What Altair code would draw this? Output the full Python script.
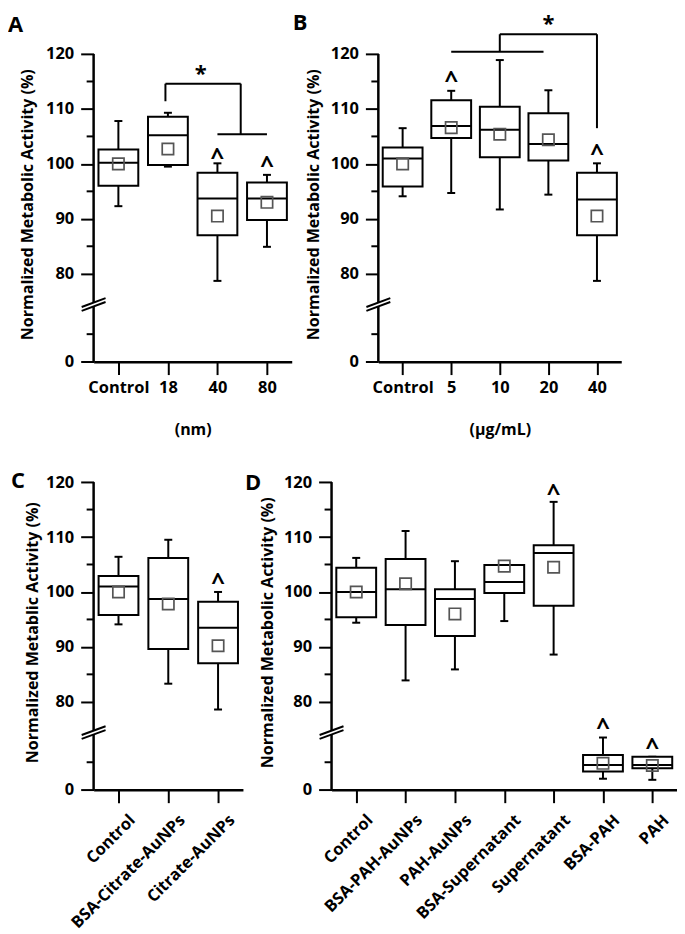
import json
import altair as alt
import pandas as pd

FONT = "Open Sans"
OFFSET = 64          # values above the axis break are drawn at (value - 64)
UMAX = 64            # top of the drawn coordinate range
PX_PER_U = 309 / 56  # plot pixels per unit

# ---------------- Panel A ----------------
A_names = ["Control", "18", "40", "80"]
A_low = [92.3, 99.5, 78.7, 84.9]
A_q1 = [96.0, 99.8, 87.0, 89.8]
A_med = [100.2, 105.2, 93.7, 93.7]
A_q3 = [102.6, 108.6, 98.4, 96.6]
A_high = [107.8, 109.3, 100.1, 98.0]
A_mean = [100.0, 102.7, 90.5, 93.0]
A_caret_idx = [2, 3]
A_caret_val = [101.5, 100.0]
# bracket segments: x1, x2, y1, y2
A_br_x1 = [0.95, 0.95, 2.47, 2.0]
A_br_x2 = [0.95, 2.47, 2.47, 3.0]
A_br_y1 = [111.4, 114.6, 114.6, 105.4]
A_br_y2 = [114.6, 114.6, 105.4, 105.4]
A_star = (1.66, 117.2)

# ---------------- Panel B ----------------
B_names = ["Control", "5", "10", "20", "40"]
B_low = [94.1, 94.7, 91.7, 94.4, 78.7]
B_q1 = [95.9, 104.7, 101.2, 100.6, 87.0]
B_med = [101.0, 106.9, 106.2, 103.6, 93.5]
B_q3 = [103.0, 111.6, 110.4, 109.2, 98.4]
B_high = [106.5, 113.3, 118.9, 113.4, 100.1]
B_mean = [100.0, 106.6, 105.4, 104.4, 90.5]
B_caret_idx = [1, 4]
B_caret_val = [115.5, 102.1]
B_br_x1 = [1.0, 2.0, 2.0, 4.0]
B_br_x2 = [2.9, 2.0, 4.0, 4.0]
B_br_y1 = [120.4, 120.4, 123.6, 123.6]
B_br_y2 = [120.4, 123.6, 123.6, 106.5]
B_star = (3.0, 126.3)

# ---------------- Panel C ----------------
C_names = ["Control", "BSA-Citrate-AuNPs", "Citrate-AuNPs"]
C_low = [94.1, 83.3, 78.6]
C_q1 = [95.8, 89.6, 87.0]
C_med = [101.0, 98.7, 93.5]
C_q3 = [102.9, 106.2, 98.2]
C_high = [106.4, 109.5, 100.0]
C_mean = [100.0, 97.8, 90.2]
C_caret_idx = [2]
C_caret_val = [102.0]

# ---------------- Panel D ----------------
D_names = ["Control", "BSA-PAH-AuNPs", "PAH-AuNPs", "BSA-Supernatant",
           "Supernatant", "BSA-PAH", "PAH"]
D_low = [94.4, 83.9, 85.9, 94.7, 88.6, 2.0, 1.8]
D_q1 = [95.4, 94.0, 92.0, 99.8, 97.5, 3.3, 3.9]
D_med = [100.0, 100.5, 98.7, 101.8, 107.1, 4.5, 4.5]
D_q3 = [104.4, 106.0, 100.5, 104.9, 108.5, 6.3, 6.0]
D_high = [106.2, 111.1, 105.6, 104.9, 116.4, 9.5, 6.0]
D_mean = [100.0, 101.5, 96.0, 104.7, 104.5, 4.8, 4.4]
D_caret_idx = [4, 5, 6]
D_caret_val = [118.2, 11.6, 8.0]

# axis decoration (drawn coordinates)
MAJOR_U = [0, 16, 26, 36, 46, 56]        # 0, 80, 90, 100, 110, 120
MINOR_U = [5, 21, 31, 41, 51]            # 5, 85, 95, 105, 115
AXIS_SEG_Y1 = [0, 10.75]
AXIS_SEG_Y2 = [10.05, 56]
BREAK_Y1 = [9.25, 9.95]
BREAK_Y2 = [10.85, 11.55]

LABEL_SIZE = 16.5
TITLE_SIZE = 16.1


def to_u(v):
    return v - OFFSET if v > 40 else v


def panel(letter, names, low, q1, med, q3, high, mean, caret_idx, caret_val,
          width, letter_dx, letter_y, ytitle, xtitle=None, angle=0, br=None,
          star=None, title_pad=10, xtitle_pad=26):
    n = len(names)
    step = width / n
    half = 20 / step
    cap = 4 / step
    height = UMAX * PX_PER_U

    df = pd.DataFrame({
        "x": list(range(n)),
        "xl": [i - half for i in range(n)],
        "xr": [i + half for i in range(n)],
        "cl": [i - cap for i in range(n)],
        "cr": [i + cap for i in range(n)],
        "low": [to_u(v) for v in low],
        "q1": [to_u(v) for v in q1],
        "med": [to_u(v) for v in med],
        "q3": [to_u(v) for v in q3],
        "high": [to_u(v) for v in high],
        "mean": [to_u(v) for v in mean],
    })

    xs = alt.Scale(domain=[-0.5, n - 0.5], nice=False, zero=False)
    ys = alt.Scale(domain=[0, UMAX], nice=False, zero=False)
    xkw = dict(values=list(range(n)),
               labelExpr=json.dumps(names) + "[datum.value]",
               grid=False, tickSize=13, tickWidth=2, tickColor="black",
               domainColor="black", domainWidth=2.5,
               labelFont=FONT, labelFontSize=LABEL_SIZE, labelFontWeight="bold",
               labelColor="black", labelAngle=angle,
               labelPadding=9 if angle else 5,
               labelOffset=8 if angle else 0,
               labelOverlap=False, labelFlush=False,
               titleFont=FONT, titleFontSize=16, titleFontWeight="bold",
               titleColor="black", titlePadding=xtitle_pad)
    xkw["title"] = xtitle if xtitle else None
    xaxis = alt.Axis(**xkw)
    yaxis = alt.Axis(values=MAJOR_U,
                     labelExpr="datum.value == 0 ? '0' : format(datum.value + 64, 'd')",
                     domain=False, grid=False, tickSize=13, tickWidth=2,
                     tickColor="black", labelFont=FONT, labelFontSize=LABEL_SIZE,
                     labelFontWeight="bold", labelColor="black", labelPadding=7,
                     labelOverlap=False,
                     title=ytitle, titleFont=FONT, titleFontSize=TITLE_SIZE,
                     titleFontWeight="bold", titleColor="black",
                     titlePadding=title_pad, titleY=195)

    def X(f):
        return alt.X(f"{f}:Q", scale=xs, axis=xaxis)

    def Y(f):
        return alt.Y(f"{f}:Q", scale=ys, axis=yaxis)

    base = alt.Chart(df)
    lw = 2
    layers = []

    axis_df = pd.DataFrame({"y1": AXIS_SEG_Y1, "y2": AXIS_SEG_Y2})
    layers.append(alt.Chart(axis_df).mark_rule(color="black", strokeWidth=2.5)
                  .encode(x=alt.value(0), y=Y("y1"), y2="y2"))
    minor_df = pd.DataFrame({"u": MINOR_U})
    layers.append(alt.Chart(minor_df).mark_rule(color="black", strokeWidth=2)
                  .encode(x=alt.value(-7), x2=alt.value(0), y=Y("u")))
    brk_df = pd.DataFrame({"y1": BREAK_Y1, "y2": BREAK_Y2})
    layers.append(alt.Chart(brk_df).mark_rule(color="black", strokeWidth=2)
                  .encode(x=alt.value(-12), x2=alt.value(12), y=Y("y1"), y2="y2"))

    layers.append(base.mark_rule(color="black", strokeWidth=lw)
                  .encode(x=X("x"), y=Y("low"), y2="q1"))
    layers.append(base.mark_rule(color="black", strokeWidth=lw)
                  .encode(x=X("x"), y=Y("q3"), y2="high"))
    layers.append(base.mark_rule(color="black", strokeWidth=lw)
                  .encode(x=X("cl"), x2="cr", y=Y("low")))
    layers.append(base.mark_rule(color="black", strokeWidth=lw)
                  .encode(x=X("cl"), x2="cr", y=Y("high")))
    layers.append(base.mark_rect(fill="white", stroke="black", strokeWidth=lw)
                  .encode(x=X("xl"), x2="xr", y=Y("q1"), y2="q3"))
    layers.append(base.mark_rule(color="black", strokeWidth=lw)
                  .encode(x=X("xl"), x2="xr", y=Y("med")))
    layers.append(base.mark_point(shape="square", size=130, filled=False,
                                  color="#555555", strokeWidth=1.7, opacity=1)
                  .encode(x=X("x"), y=Y("mean")))

    caret_df = pd.DataFrame({"x": caret_idx, "u": [to_u(v) for v in caret_val]})
    layers.append(alt.Chart(caret_df)
                  .mark_text(text="^", font=FONT, fontSize=24, fontWeight="bold",
                             color="black", baseline="middle", dy=2)
                  .encode(x=X("x"), y=Y("u")))

    if br is not None:
        bx1, bx2, by1, by2 = br
        br_df = pd.DataFrame({"x1": bx1, "x2": bx2,
                              "y1": [to_u(v) for v in by1],
                              "y2": [to_u(v) for v in by2]})
        layers.append(alt.Chart(br_df).mark_rule(color="black", strokeWidth=2)
                      .encode(x=X("x1"), x2="x2", y=Y("y1"), y2="y2"))
    if star is not None:
        st_df = pd.DataFrame({"x": [star[0]], "u": [to_u(star[1])]})
        layers.append(alt.Chart(st_df)
                      .mark_text(text="*", font=FONT, fontSize=22, fontWeight="bold",
                                 color="black", baseline="middle", dy=5)
                      .encode(x=X("x"), y=Y("u")))

    # panel letter
    let_df = pd.DataFrame({"t": [letter]})
    layers.append(alt.Chart(let_df)
                  .mark_text(font=FONT, fontSize=22, fontWeight="bold",
                             color="black", align="left", baseline="alphabetic")
                  .encode(text="t:N", x=alt.value(letter_dx), y=alt.value(letter_y)))

    return alt.layer(*layers).properties(width=width, height=height)


pA = panel("A", A_names, A_low, A_q1, A_med, A_q3, A_high, A_mean,
           A_caret_idx, A_caret_val, 199, -86, 22,
           "Normalized Metabolic Activity (%)", xtitle="(nm)",
           br=(A_br_x1, A_br_x2, A_br_y1, A_br_y2), star=A_star, title_pad=10)
pB = panel("B", B_names, B_low, B_q1, B_med, B_q3, B_high, B_mean,
           B_caret_idx, B_caret_val, 244, -86, 20,
           "Normalized Metabolic Activity (%)", xtitle="(µg/mL)",
           br=(B_br_x1, B_br_x2, B_br_y1, B_br_y2), star=B_star, title_pad=9)
pC = panel("C", C_names, C_low, C_q1, C_med, C_q3, C_high, C_mean,
           C_caret_idx, C_caret_val, 150, -83, 50,
           "Normalized Metablic Activity (%)", angle=-45, title_pad=5)
pD = panel("D", D_names, D_low, D_q1, D_med, D_q3, D_high, D_mean,
           D_caret_idx, D_caret_val, 347, -87, 52,
           "Normalized Metabolic Activity (%)", angle=-45, title_pad=8)

row1 = alt.hconcat(pA, pB, spacing=1)
row2 = alt.hconcat(pC, pD, spacing=2)
chart = alt.vconcat(row1, row2, spacing=0).properties(
    padding=0, background="white"
).configure_view(stroke=None)

chart.save("out.html", embed_options={"renderer": "svg", "actions": False})
